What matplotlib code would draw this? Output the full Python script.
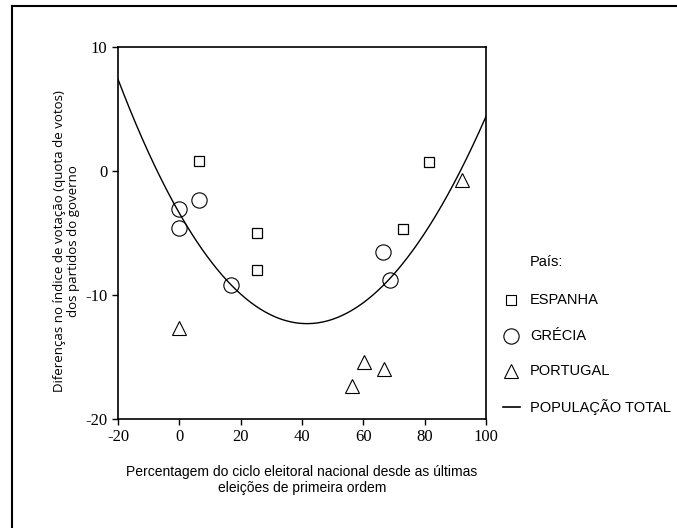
import numpy as np
import matplotlib
matplotlib.use("Agg")
from matplotlib import pyplot as plt
from matplotlib.lines import Line2D

plt.rcParams['font.family'] = ['Liberation Sans Narrow', 'Liberation Sans', 'DejaVu Sans']
plt.rcParams['axes.unicode_minus'] = False

# ESPANHA (squares)
espanha_x = [6.4, 25.3, 25.3, 72.9, 81.4]
espanha_y = [0.8, -5.0, -8.0, -4.7, 0.7]
# GRECIA (circles)
grecia_x = [0.0, 0.0, 6.4, 16.8, 66.4, 68.7]
grecia_y = [-3.1, -4.6, -2.3, -9.2, -6.5, -8.8]
# PORTUGAL (triangles)
portugal_x = [0.0, 60.2, 66.7, 56.3, 92.2]
portugal_y = [-12.7, -15.4, -16.0, -17.3, -0.7]
# POPULACAO TOTAL fit line (cubic coefficients, low -> high order)
fit_coef = [-3.4, -0.4322, 0.005341, -2.39e-6]

xticks = [-20, 0, 20, 40, 60, 80, 100]
yticks = [-20, -10, 0, 10]

fig = plt.figure(figsize=(6.77, 5.28), dpi=100)
ax = fig.add_axes([118 / 677, 1 - 419 / 528, 368 / 677, 372 / 528])

xs = np.linspace(-20, 100, 300)
ys = np.polynomial.polynomial.polyval(xs, fit_coef)
ax.plot(xs, ys, color='black', lw=1.0)

ax.plot(espanha_x, espanha_y, ls='none', marker='s', ms=7.5, mfc='white', mec='black', mew=0.9)
ax.plot(grecia_x, grecia_y, ls='none', marker='o', ms=11, mfc='none', mec='black', mew=0.8)
ax.plot(portugal_x, portugal_y, ls='none', marker='^', ms=9.5, mfc='none', mec='black', mew=0.8)

ax.set_xlim(-20, 100)
ax.set_ylim(-20, 10)
ax.set_xticks(xticks)
ax.set_yticks(yticks)
ax.tick_params(direction='out', length=4, width=1, labelsize=12)
for lab in ax.get_xticklabels() + ax.get_yticklabels():
    lab.set_family(['Liberation Serif', 'DejaVu Serif'])
for s in ax.spines.values():
    s.set_linewidth(1.2)

ax.set_xlabel('Percentagem do ciclo eleitoral nacional desde as últimas\neleições de primeira ordem',
              fontsize=10, labelpad=14)
fig.text(67 / 677, 1 - 241 / 528,
         'Diferenças no índice de votação (quota de votos)\ndos partidos do governo',
         rotation=90, ha='center', va='center', fontsize=9.5, linespacing=1.1,
         family=['Open Sans', 'DejaVu Sans'])

# legend drawn by hand
fig.text(530 / 677, 1 - 262 / 528, 'País:', fontsize=10.5, va='center')
leg = [('s', 7.5, 'ESPANHA', 300), ('o', 11, 'GRÉCIA', 336),
       ('^', 9.5, 'PORTUGAL', 371)]
for m, ms, name, py in leg:
    fig.add_artist(Line2D([511 / 677], [1 - py / 528], marker=m, ms=ms, mfc='none',
                          mec='black', mew=0.8, ls='none'))
    fig.text(530 / 677, 1 - py / 528, name, fontsize=10.5, va='center')
fig.add_artist(Line2D([503 / 677, 520 / 677], [1 - 407 / 528] * 2, color='black', lw=1.2))
fig.text(530 / 677, 1 - 407 / 528, 'POPULAÇÃO TOTAL', fontsize=10.5, va='center')

# outer frame of the scanned page
fig.add_artist(Line2D([12 / 677, 12 / 677], [0, 1 - 6 / 528], color='black', lw=1.5))
fig.add_artist(Line2D([12 / 677, 1], [1 - 6 / 528] * 2, color='black', lw=1.5))

fig.savefig('out.png', dpi=100)
